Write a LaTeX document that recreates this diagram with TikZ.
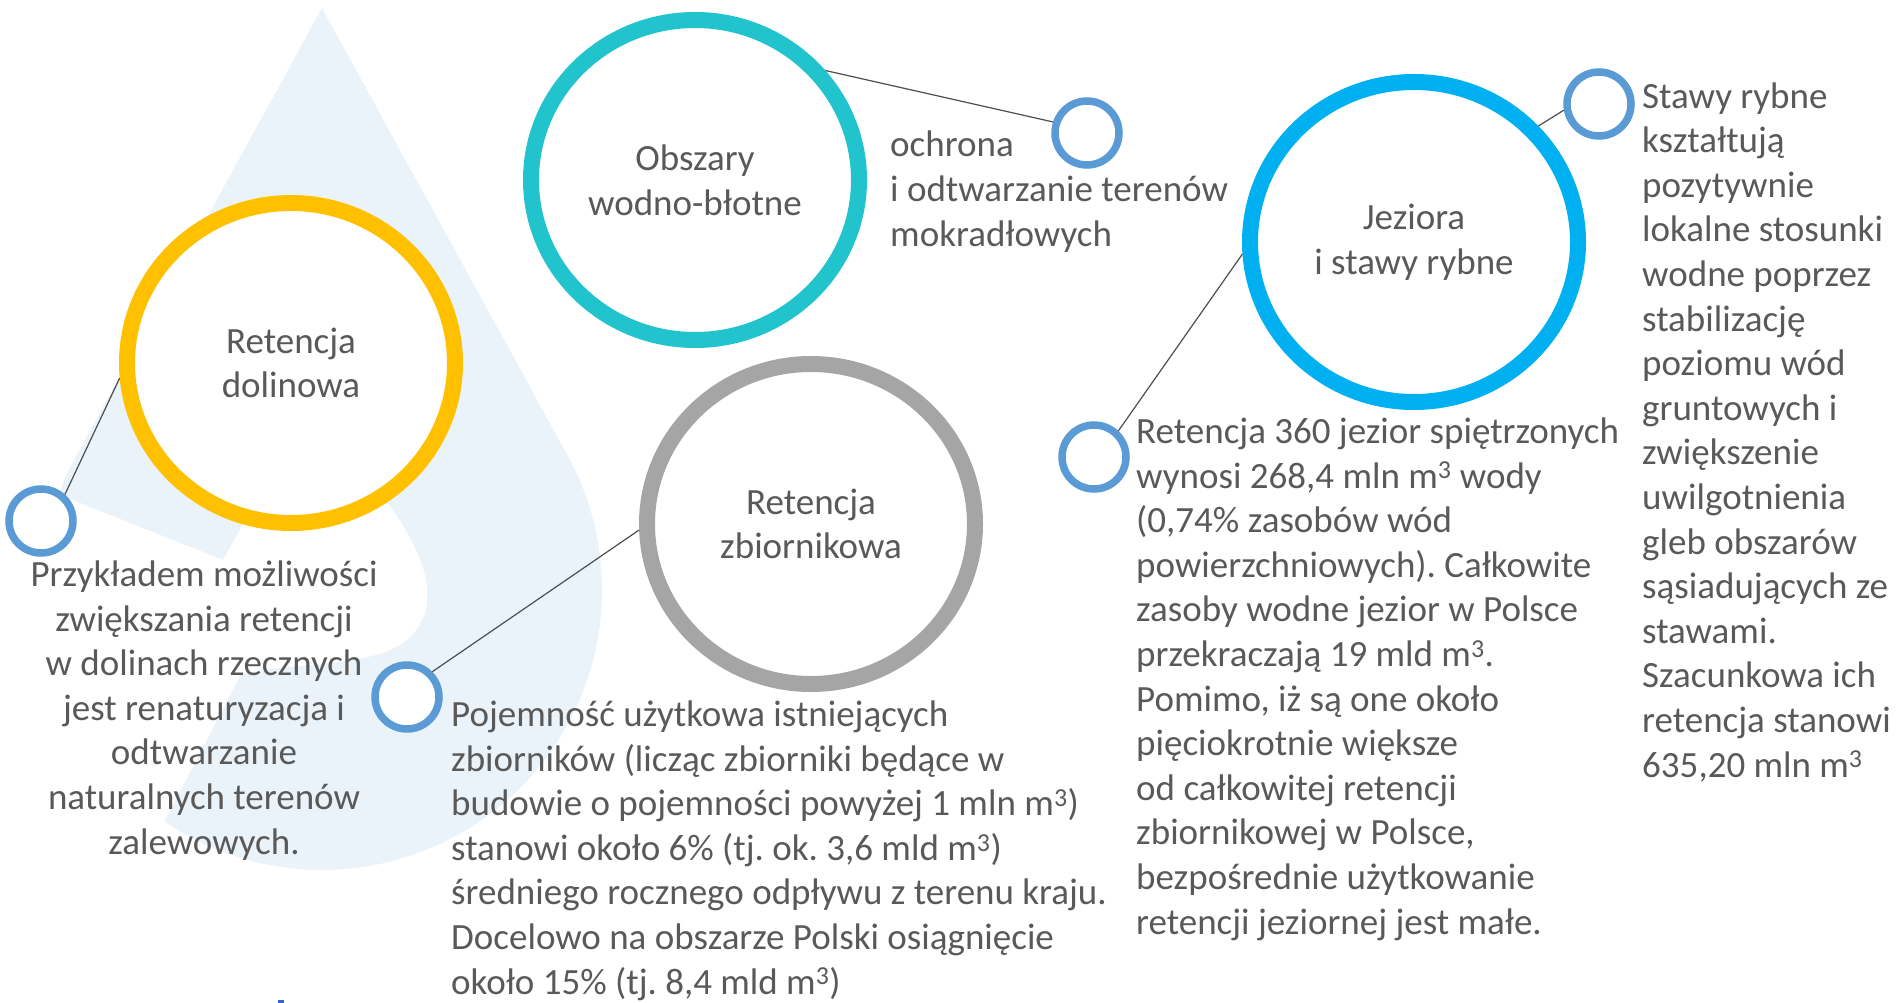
\documentclass[tikz,border=0pt]{standalone}
\usepackage{fontspec}
\setmainfont{Carlito}
\frenchspacing
\usetikzlibrary{shapes.geometric}
\definecolor{txtgray}{HTML}{595959}
\definecolor{ringyellow}{HTML}{FFC000}
\definecolor{ringteal}{HTML}{21C3CC}
\definecolor{ringgray}{HTML}{A5A5A5}
\definecolor{ringblue}{HTML}{00B0F0}
\definecolor{dotblue}{HTML}{5B9BD5}
\definecolor{droplight}{HTML}{EBF3FA}
\definecolor{linkgray}{HTML}{4D4D4D}
\definecolor{markblue}{HTML}{3366CC}
\tikzset{
  ring/.style={ellipse,draw=#1,line width=16pt,fill=white,minimum width=328pt,minimum height=320pt,inner sep=0pt,align=center,text=txtgray},
  dot/.style={circle,draw=dotblue,line width=7.5pt,fill=white,minimum size=64pt,inner sep=0pt},
  desc/.style={inner sep=0pt,text=txtgray},
  link/.style={draw=linkgray,line width=1.2pt}
}
\begin{document}
\begin{tikzpicture}[x=1pt,y=-1pt,font=\fontsize{37}{44.6}\selectfont]
\useasboundingbox (0,0) rectangle (1897,1003);
% kropla w tle
\fill[droplight] (322,8) -- (567.6,455.5) arc[start angle=-28.7,end angle=208.7,radius=280] -- cycle;
\fill[white] (0,471) -- (223,560) -- (243,524) -- (300,470) -- (388,504) .. controls (430,560) and (445,615) .. (400,645) .. controls (360,668) and (290,662) .. (241,674) -- (162,826) -- (140,860) -- (0,860) -- cycle;
\fill[markblue] (278,1000) rectangle (284,1003);
% kola
\node[ring=ringyellow] (dol) at (291,363) {Retencja\\dolinowa};
\node[ring=ringteal] (obsz) at (695,180) {Obszary\\wodno-błotne};
\node[ring=ringgray] (zb) at (811,524) {Retencja\\zbiornikowa};
\node[ring=ringblue] (jez) at (1414,242) {Jeziora\\i stawy rybne};
\foreach \kn/\kx/\ky in {da/41/521,db/407/697,dc/1087/133,dd/1094/457,de/1599/104}{\node[dot] (\kn) at (\kx,\ky) {};}
\draw[link] (da.48) -- (dol.185);
\draw[link] (db.45) -- (zb.182);
\draw[link] (dc.162) -- (obsz.40);
\draw[link] (dd.47) -- (jez.184);
\draw[link] (de.190) -- (jez.43);
% opisy (base = ostatnia linia)
\node[desc,anchor=base,align=center] (przyk) at (204,854) {Przykładem możliwości\\zwiększania retencji\\w dolinach rzecznych\\jest renaturyzacja i\\odtwarzanie\\naturalnych terenów\\zalewowych.};
\node[desc,anchor=base west,align=left] (ochr) at (890,246) {ochrona\\i odtwarzanie terenów\\mokradłowych};
\node[desc,anchor=base west,align=left] (poj) at (451,994) {Pojemność użytkowa istniejących\\zbiorników (licząc zbiorniki będące w\\budowie o pojemności powyżej 1 mln m\textsuperscript{3})\\stanowi około 6\% (tj. ok. 3,6 mld m\textsuperscript{3})\\średniego rocznego odpływu z terenu kraju.\\Docelowo na obszarze Polski osiągnięcie\\około 15\% (tj. 8,4 mld m\textsuperscript{3})};
\node[desc,anchor=base west,align=left] (jezt) at (1136,934) {Retencja 360 jezior spiętrzonych\\wynosi 268,4 mln m\textsuperscript{3} wody\\(0,74\% zasobów wód\\powierzchniowych). Całkowite\\zasoby wodne jezior w Polsce\\przekraczają 19 mld m\textsuperscript{3}.\\Pomimo, iż są one około\\pięciokrotnie większe\\od całkowitej retencji\\zbiornikowej w Polsce,\\bezpośrednie użytkowanie\\retencji jeziornej jest małe.};
\node[desc,anchor=base west,align=left] (staw) at (1642,777) {Stawy rybne\\kształtują\\pozytywnie\\lokalne stosunki\\wodne poprzez\\stabilizację\\poziomu wód\\gruntowych i\\zwiększenie\\uwilgotnienia\\gleb obszarów\\sąsiadujących ze\\stawami.\\Szacunkowa ich\\retencja stanowi\\635,20 mln m\textsuperscript{3}};
\end{tikzpicture}
\end{document}
